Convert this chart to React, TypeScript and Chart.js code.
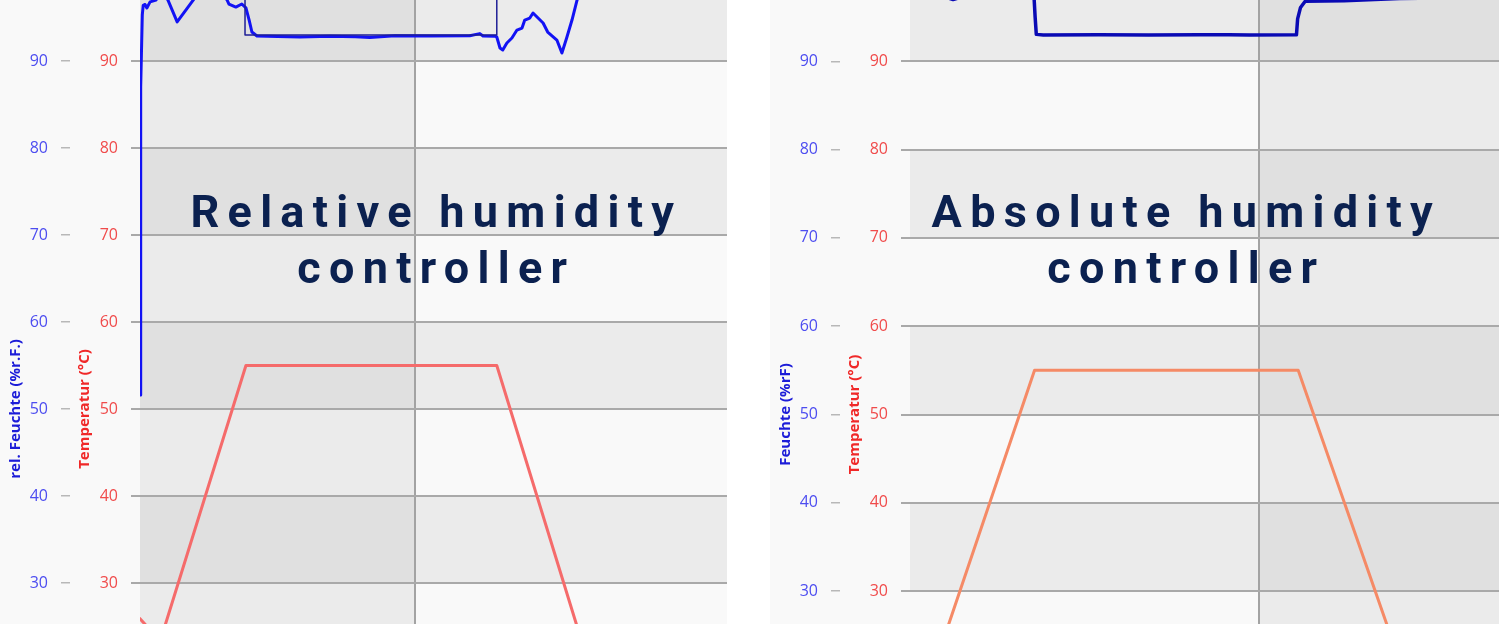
import { useEffect, useRef } from "react";
import { Chart, registerables, ChartConfiguration, Plugin } from "chart.js";

Chart.register(...registerables);

// time axis in minutes, humidity in %, temperature in °C

// left chart: relative humidity controller
const rhTime = [
  0, 1, 2, 5, 7, 11, 15, 22, 35, 44, 57, 61, 81, 116, 126, 179, 190, 194, 209, 222, 231, 238, 244, 255,
  300, 349, 414, 470, 501, 556, 632, 719, 741, 748, 774, 778, 785, 791, 800, 811, 822, 833, 839, 850,
  857, 868, 879, 889, 909, 920, 931, 942, 953, 964, 1280,
];
const rhActual = [
  51.6, 79.8, 87.0, 95.3, 96.4, 96.5, 96.1, 96.8, 97.0, 97.8, 97.3, 97.0, 94.5, 97.0, 97.8, 97.8, 97.0,
  96.55, 96.2, 96.55, 96.1, 94.7, 93.33, 92.87, 92.82, 92.76, 92.85, 92.8, 92.7, 92.9, 92.87, 92.9, 93.15,
  92.87, 92.85, 92.76, 91.49, 91.26, 92.07, 92.64, 93.56, 93.79, 94.71, 94.94, 95.52, 94.94, 94.37, 93.33,
  92.41, 90.92, 92.76, 94.71, 97.0, 98.0, 98.2,
];
const rhSetTime = [0, 229, 229, 778, 778, 1280];
const rhSetpoint = [98.5, 98.5, 93.0, 93.0, 98.5, 98.5];
const tempLeftTime = [0, 26, 48, 231, 778, 959, 1003, 1280];
const tempLeft = [25.9, 24.4, 24.0, 55.0, 55.0, 24.0, 23.6, 23.5];

// right chart: absolute humidity controller
const ahTime = [0, 48, 66, 74, 83, 100, 213, 215, 217, 229, 324, 410, 497, 548, 583, 664, 666, 671, 679, 746, 841, 945, 1012];
const ahHumidity = [
  97.5, 97.4, 97.15, 97.0, 97.15, 97.4, 97.4, 95.0, 93.05, 92.98, 93.0, 92.97, 93.02, 93.0, 92.98, 93.0,
  94.8, 96.1, 96.8, 96.85, 97.1, 97.2, 97.4,
];
const tempRightTime = [0, 55, 214, 667, 831, 1012];
const tempRight = [24.0, 24.0, 55.0, 55.0, 24.0, 24.0];

const yTicks = [10, 20, 30, 40, 50, 60, 70, 80, 90];
const xGrid = [600];
const shadedRows = [[10, 20], [30, 40], [50, 60], [70, 80], [90, 100]];

const zip = (xs: number[], ys: number[]) => xs.map((x, i) => ({ x, y: ys[i] }));

// checkerboard background: shaded rows and shaded columns add up
const bandPlugin: Plugin<"line"> = {
  id: "bands",
  beforeDraw(chart, _args, opts: any) {
    const { ctx, chartArea, scales } = chart;
    const x = scales.x;
    const y = scales.temp;
    ctx.save();
    ctx.beginPath();
    ctx.rect(chartArea.left, chartArea.top, chartArea.width, chartArea.height);
    ctx.clip();
    const edges = [x.min, ...xGrid, x.max];
    for (let c = 0; c < edges.length - 1; c++) {
      const colShaded = opts.cols.some((r: number[]) => r[0] <= edges[c] && r[1] >= edges[c + 1]);
      for (let v = 0; v < 100; v += 10) {
        const rowShaded = opts.rows.some((r: number[]) => r[0] === v);
        const n = (colShaded ? 1 : 0) + (rowShaded ? 1 : 0);
        if (n === 0) continue;
        ctx.fillStyle = n === 2 ? "#e0e0e0" : "#ebebeb";
        const x0 = x.getPixelForValue(edges[c]);
        const x1 = x.getPixelForValue(edges[c + 1]);
        const y0 = y.getPixelForValue(v + 10);
        const y1 = y.getPixelForValue(v);
        ctx.fillRect(x0, y0, x1 - x0, y1 - y0);
      }
    }
    ctx.restore();
  },
};

const tickFont = { family: '"Open Sans", sans-serif', size: 16 };
const titleFont = { family: '"Open Sans", sans-serif', size: 15, weight: "bold" as const };

function makeConfig(xMax: number, humTitle: string, cols: number[][], datasets: any[]): ChartConfiguration<"line"> {
  return {
    type: "line",
    data: { datasets },
    options: {
      animation: false,
      responsive: true,
      maintainAspectRatio: false,
      events: [],
      layout: { padding: 0 },
      elements: {
        point: { radius: 0 },
        line: { tension: 0, borderJoinStyle: "round", borderCapStyle: "round" },
      },
      plugins: {
        legend: { display: false },
        tooltip: { enabled: false },
        // @ts-ignore
        bands: { rows: shadedRows, cols },
      },
      scales: {
        x: {
          type: "linear",
          min: 0,
          max: xMax,
          afterBuildTicks: (s: any) => {
            s.ticks = xGrid.map((v) => ({ value: v }));
          },
          ticks: { display: false },
          grid: { color: "#a3a3a3", lineWidth: 2, drawTicks: false },
          border: { display: false },
        },
        hum: {
          type: "linear",
          position: "left",
          weight: 2,
          min: 0,
          max: 100,
          afterBuildTicks: (s: any) => {
            s.ticks = yTicks.map((v) => ({ value: v }));
          },
          afterFit: (s: any) => {
            s.width = 70;
            s.paddingTop = 0;
            s.paddingBottom = 0;
          },
          ticks: { color: "#4d4df0", font: tickFont, padding: 13 },
          grid: { drawOnChartArea: false, color: "#b8b8b8", lineWidth: 1.5, tickLength: 9 },
          border: { display: false },
          title: { display: true, text: humTitle, color: "#1c1cd8", font: titleFont, padding: { top: 7, bottom: 0 } },
        },
        temp: {
          type: "linear",
          position: "left",
          weight: 1,
          min: 0,
          max: 100,
          afterBuildTicks: (s: any) => {
            s.ticks = yTicks.map((v) => ({ value: v }));
          },
          afterFit: (s: any) => {
            s.width = 70;
            s.paddingTop = 0;
            s.paddingBottom = 0;
          },
          ticks: { color: "#f04b4b", font: tickFont, padding: 13 },
          grid: { color: "#a9a9a9", lineWidth: 2, tickLength: 9 },
          border: { display: false },
          title: { display: true, text: "Temperatur (°C)", color: "#f02828", font: titleFont, padding: { top: 6, bottom: 0 } },
        },
      },
    },
    plugins: [bandPlugin],
  };
}

const leftConfig = makeConfig(1280, "rel. Feuchte (%r.F.)", [[0, 600]], [
  { label: "Temperatur", data: zip(tempLeftTime, tempLeft), yAxisID: "temp", borderColor: "#f56b6b", borderWidth: 3 },
  { label: "Sollwert", data: zip(rhSetTime, rhSetpoint), yAxisID: "hum", borderColor: "#1e1e96", borderWidth: 1.5 },
  { label: "rel. Feuchte", data: zip(rhTime, rhActual), yAxisID: "hum", borderColor: "#1212f4", borderWidth: 3 },
]);

const rightConfig = makeConfig(1012, "Feuchte (%rF)", [[600, 1012]], [
  { label: "Temperatur", data: zip(tempRightTime, tempRight), yAxisID: "temp", borderColor: "#f58a66", borderWidth: 3 },
  { label: "Feuchte", data: zip(ahTime, ahHumidity), yAxisID: "hum", borderColor: "#0a0ab4", borderWidth: 3.5 },
]);

function ChartPanel({ config, top, width, height }: { config: ChartConfiguration<"line">; top: number; width: number; height: number }) {
  const canvasRef = useRef<HTMLCanvasElement | null>(null);

  useEffect(() => {
    if (!canvasRef.current) return;
    const chart = new Chart(canvasRef.current, config);
    return () => chart.destroy();
  }, [config]);

  return (
    <div style={{ position: "absolute", left: 0, top, width, height }}>
      <canvas ref={canvasRef} />
    </div>
  );
}

const headStyle: React.CSSProperties = {
  position: "absolute",
  top: 184,
  width: 700,
  textAlign: "center",
  fontFamily: "Roboto, sans-serif",
  fontWeight: 700,
  fontSize: 45,
  lineHeight: "56px",
  letterSpacing: 8.3,
  paddingLeft: 8.3,
  color: "#0b2150",
  whiteSpace: "nowrap",
  pointerEvents: "none",
};

export default function App() {
  return (
    <div style={{ position: "fixed", inset: 0, overflow: "hidden", background: "#ffffff" }}>
      <div style={{ position: "absolute", left: 0, top: 0, width: 727, height: 624, overflow: "hidden", background: "#f9f9f9" }}>
        <ChartPanel config={leftConfig} top={-26} width={727} height={870} />
      </div>
      <div style={{ position: "absolute", left: 770, top: 0, width: 729, height: 624, overflow: "hidden", background: "#f9f9f9" }}>
        <ChartPanel config={rightConfig} top={-27} width={729} height={883} />
      </div>
      <div style={{ ...headStyle, left: 428 - 350 }}>
        Relative humidity
        <br />
        controller
      </div>
      <div style={{ ...headStyle, left: 1178 - 350 }}>
        Absolute humidity
        <br />
        controller
      </div>
    </div>
  );
}
